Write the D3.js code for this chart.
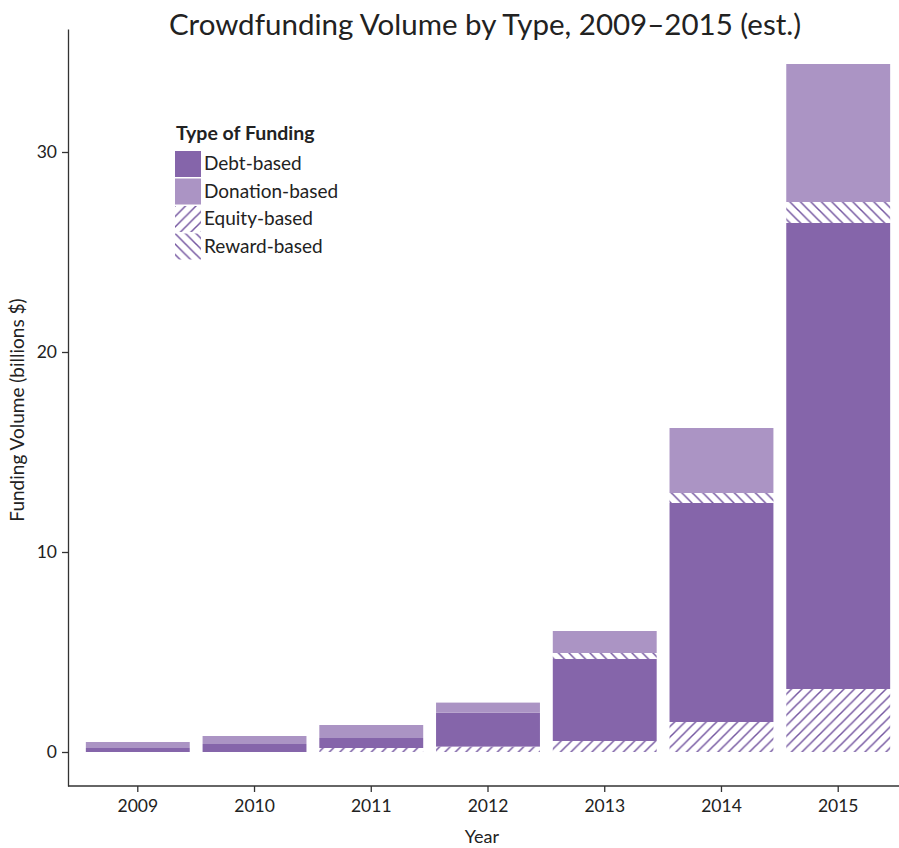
<!DOCTYPE html>
<html>
<head>
<meta charset="utf-8">
<script src="https://cdn.jsdelivr.net/npm/d3@7"></script>
<style>
  body { margin: 0; background: #fff; }
  svg { font-family: Lato, "Open Sans", sans-serif; }
</style>
</head>
<body>
<div id="chart"></div>
<script>
// values (billions $)
const years = ["2009", "2010", "2011", "2012", "2013", "2014", "2015"];
const equity = [0, 0, 0.2, 0.27, 0.55, 1.5, 3.15];
const debt = [0.2, 0.4, 0.5, 1.7, 4.1, 10.95, 23.3];
const reward = [0, 0, 0, 0, 0.3, 0.5, 1.05];
const donation = [0.3, 0.4, 0.65, 0.5, 1.1, 3.25, 6.9];
const yTicks = [0, 10, 20, 30];

const width = 899, height = 848;
const purple = "#8565aa", lilac = "#ab94c4";

const rows = years.map((y, i) => ({
  year: y, equity: equity[i], debt: debt[i], reward: reward[i], donation: donation[i]
}));
const keys = ["equity", "debt", "reward", "donation"];
const series = d3.stack().keys(keys)(rows);

const svg = d3.select("#chart").append("svg")
  .attr("width", width).attr("height", height);

// hatch patterns
const defs = svg.append("defs");
const hatch = (id, dir) => {
  const s = 10.5;
  const p = defs.append("pattern").attr("id", id)
    .attr("patternUnits", "userSpaceOnUse")
    .attr("width", s).attr("height", s);
  const d = dir > 0
    ? `M0,${s} L${s},0 M${-s / 4},${s / 4} L${s / 4},${-s / 4} M${s * 3 / 4},${s * 5 / 4} L${s * 5 / 4},${s * 3 / 4}`
    : `M0,0 L${s},${s} M${-s / 4},${s * 3 / 4} L${s / 4},${s * 5 / 4} M${s * 3 / 4},${-s / 4} L${s * 5 / 4},${s / 4}`;
  p.append("path").attr("d", d).attr("stroke", "#7456a0").attr("stroke-width", 1.5);
};
hatch("hatchEquity", 1);
hatch("hatchReward", -1);

const fills = {
  equity: "url(#hatchEquity)", debt: purple,
  reward: "url(#hatchReward)", donation: lilac
};

const x = d3.scaleBand().domain(years).range([73, 903]).paddingInner(0.11).paddingOuter(0.11);
const y = d3.scaleLinear().domain([-1.7, 36.15]).range([786, 29]);

// bars
svg.append("g").selectAll("g")
  .data(series)
  .join("g")
  .attr("fill", d => fills[d.key])
  .selectAll("rect")
  .data(d => d)
  .join("rect")
  .attr("x", d => x(d.data.year))
  .attr("width", x.bandwidth())
  .attr("y", d => y(d[1]))
  .attr("height", d => y(d[0]) - y(d[1]));

// axes
const xAxis = svg.append("g")
  .attr("transform", "translate(0,786)")
  .call(d3.axisBottom(x).tickSize(6).tickPadding(8).tickSizeOuter(0));
xAxis.select(".domain").attr("d", "M68,0H899");

const yAxis = svg.append("g")
  .attr("transform", "translate(68,0)")
  .call(d3.axisLeft(y).tickValues(yTicks).tickSize(6).tickPadding(5).tickSizeOuter(0));

svg.selectAll(".domain").attr("stroke", "#333").attr("stroke-width", 1.3);
svg.selectAll(".tick line").attr("stroke", "#333").attr("stroke-width", 1.3);
svg.selectAll(".tick text").attr("font-size", 17.5).attr("fill", "#222")
  .attr("font-family", "Lato, sans-serif");

// titles
svg.append("text")
  .attr("x", 485).attr("y", 35)
  .attr("text-anchor", "middle")
  .attr("font-size", 29.5).attr("fill", "#222")
  .text("Crowdfunding Volume by Type, 2009\u20132015 (est.)");

svg.append("text")
  .attr("x", 482).attr("y", 843)
  .attr("text-anchor", "middle")
  .attr("font-size", 18).attr("fill", "#222")
  .text("Year");

svg.append("text")
  .attr("transform", "translate(24,410) rotate(-90)")
  .attr("text-anchor", "middle")
  .attr("font-size", 19).attr("fill", "#222")
  .text("Funding Volume (billions $)");

// legend
const legendItems = [
  { label: "Debt-based", fill: fills.debt },
  { label: "Donation-based", fill: fills.donation },
  { label: "Equity-based", fill: fills.equity },
  { label: "Reward-based", fill: fills.reward }
];
const legend = svg.append("g").attr("transform", "translate(175,140)");
legend.append("text")
  .attr("x", 1).attr("y", 0)
  .attr("font-size", 19.5).attr("font-weight", "bold").attr("fill", "#222")
  .text("Type of Funding");
const item = legend.selectAll("g.item")
  .data(legendItems)
  .join("g")
  .attr("class", "item")
  .attr("transform", (d, i) => `translate(0,${11 + i * 27.5})`);
item.append("rect")
  .attr("width", 26).attr("height", 26)
  .attr("fill", d => d.fill);
item.append("text")
  .attr("x", 29).attr("y", 19)
  .attr("font-size", 19).attr("fill", "#222")
  .text(d => d.label);
</script>
</body>
</html>
